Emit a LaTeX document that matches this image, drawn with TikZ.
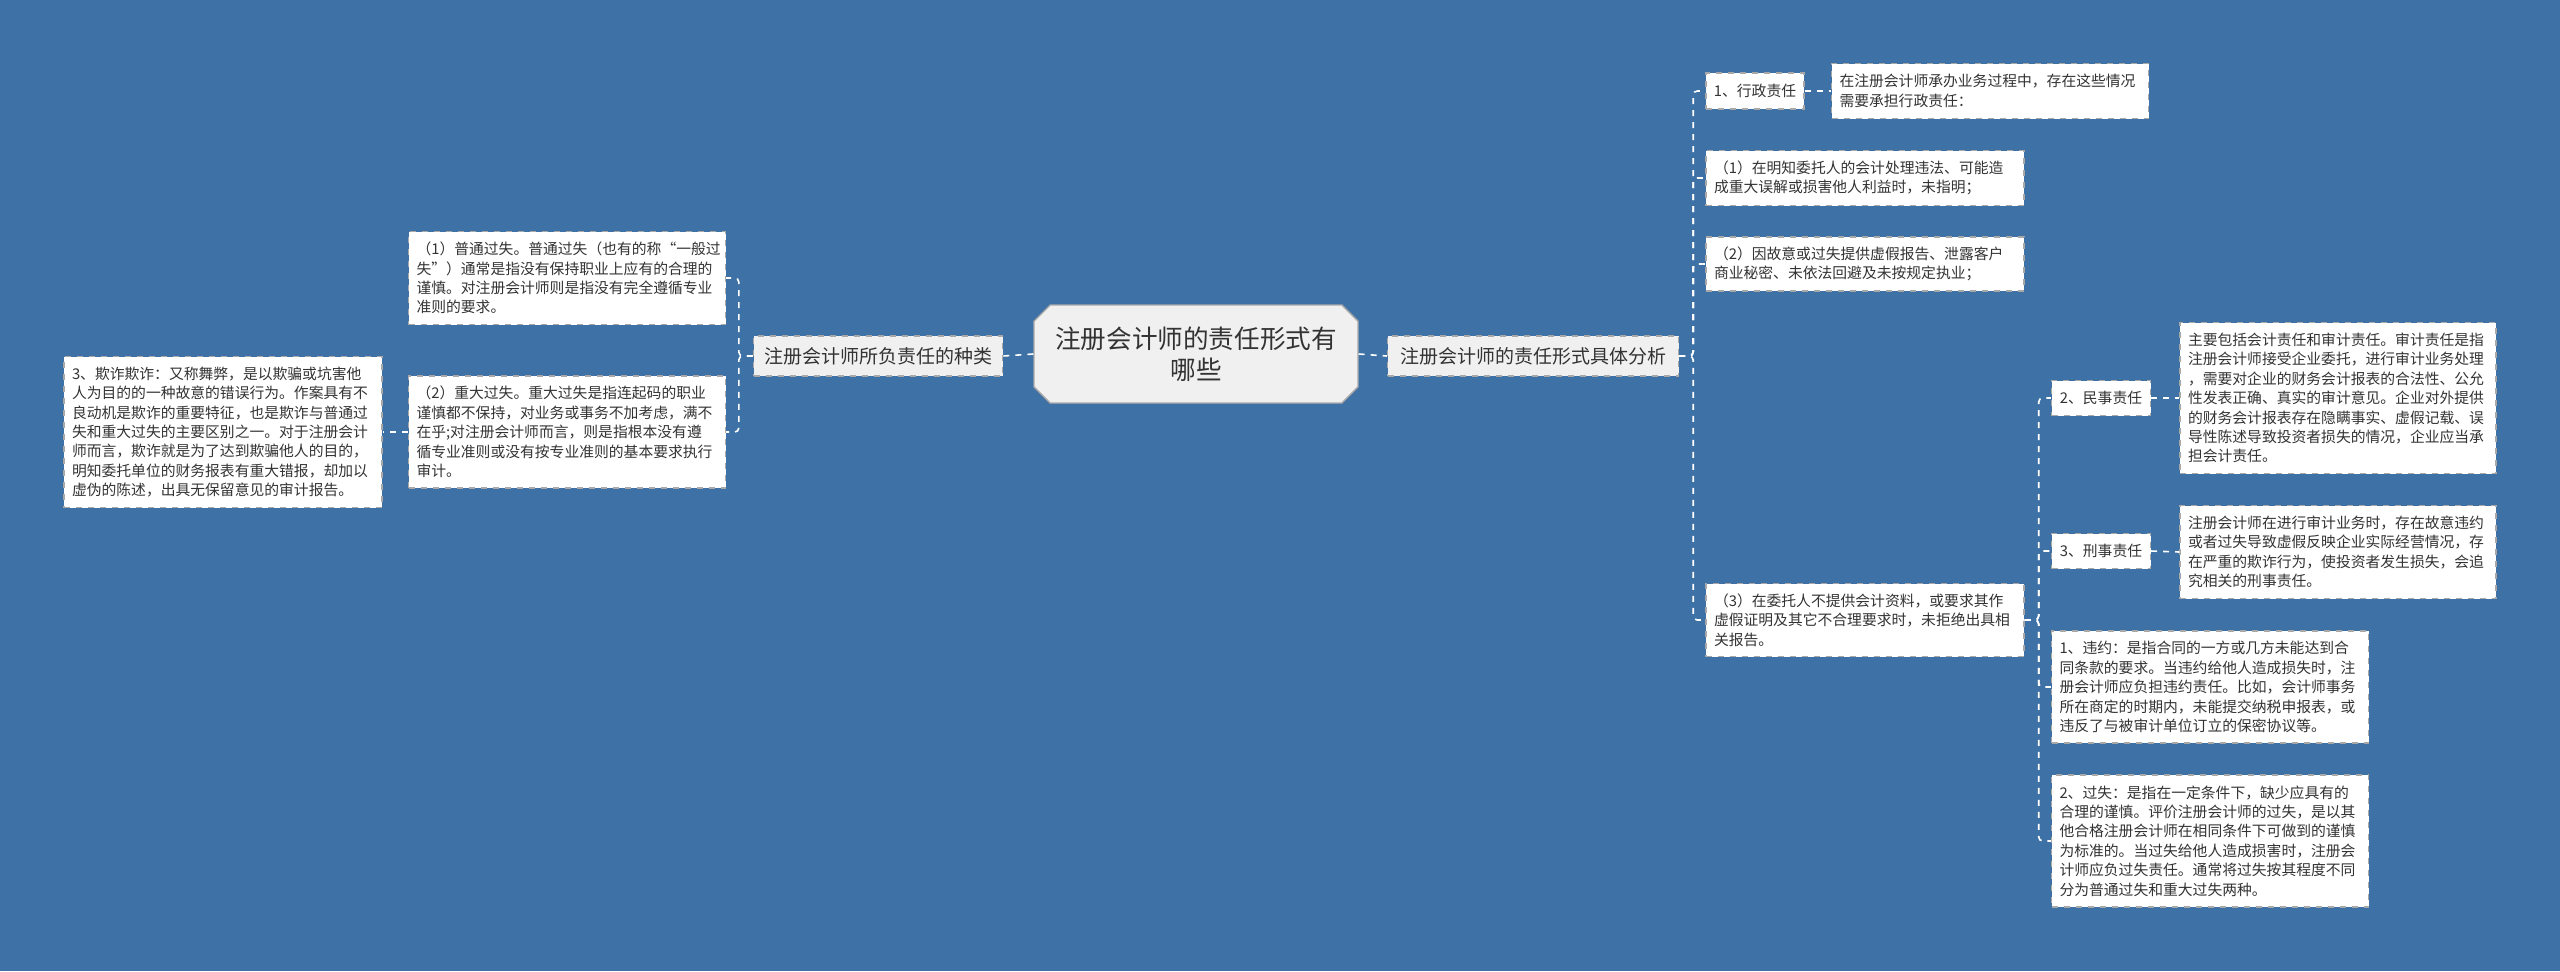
\documentclass[tikz,border=0pt]{standalone}
\usepackage{fontspec}
\setmainfont{Noto Sans CJK SC}
\usetikzlibrary{shapes.misc}
\definecolor{bg}{HTML}{3E72A6}
\definecolor{txt}{HTML}{333333}
\definecolor{bd}{HTML}{A8A8A8}
\begin{document}
\begin{tikzpicture}[x=0.5pt,y=-0.5pt,
  box/.style={draw=bd,dashed,line width=0.7pt,fill=white,text=txt,font=\fontsize{7.4}{9.7}\selectfont,align=left,inner xsep=4pt,inner ysep=2pt},
  lvl/.style={draw=bd,dashed,line width=0.7pt,fill=black!6,text=txt,font=\fontsize{9.5}{12}\selectfont,align=center,inner sep=2pt},
  lbl/.style={box,align=center,inner xsep=2pt},
  con/.style={draw=white,dashed,line width=0.8pt,rounded corners=2pt}]
\fill[bg] (0,0) rectangle (2560,971);
\node[draw=bd,line width=0.7pt,fill=black!6,text=txt,chamfered rectangle,chamfered rectangle xsep=4.5pt,chamfered rectangle corners={north west,south west,north east,south east},font=\fontsize{12.8}{15.5}\selectfont,align=center,minimum width=162pt,minimum height=49pt,inner sep=0pt] (c) at (1196,354) {注册会计师的责任形式有\\哪些};
\node[lvl,minimum width=124.5pt,minimum height=20pt] (zl) at (878,356) {注册会计师所负责任的种类};
\node[lvl,minimum width=145.5pt,minimum height=20pt] (zr) at (1533,356) {注册会计师的责任形式具体分析};
\node[box,minimum width=158.5pt,minimum height=46.5pt,text width=150.5pt] (L1) at (567,278) {（1）普通过失。普通过失（也有的称“一般过\\失”）通常是指没有保持职业上应有的合理的\\谨慎。对注册会计师则是指没有完全遵循专业\\准则的要求。};
\node[box,minimum width=158.5pt,minimum height=56pt,text width=150.5pt] (L2) at (567,432) {（2）重大过失。重大过失是指连起码的职业\\谨慎都不保持，对业务或事务不加考虑，满不\\在乎;对注册会计师而言，则是指根本没有遵\\循专业准则或没有按专业准则的基本要求执行\\审计。};
\node[box,minimum width=159pt,minimum height=75.5pt,text width=151pt] (L3) at (223,432) {3、欺诈欺诈：又称舞弊，是以欺骗或坑害他\\人为目的的一种故意的错误行为。作案具有不\\良动机是欺诈的重要特征，也是欺诈与普通过\\失和重大过失的主要区别之一。对于注册会计\\师而言，欺诈就是为了达到欺骗他人的目的，\\明知委托单位的财务报表有重大错报，却加以\\虚伪的陈述，出具无保留意见的审计报告。};
\node[lbl,minimum width=49pt,minimum height=18pt] (R1) at (1755,91) {1、行政责任};
\node[box,minimum width=158.5pt,minimum height=27.5pt,text width=150.5pt] (R1c) at (1990,91) {在注册会计师承办业务过程中，存在这些情况\\需要承担行政责任：};
\node[box,minimum width=159pt,minimum height=27.5pt,text width=151pt] (Ra) at (1865,178) {（1）在明知委托人的会计处理违法、可能造\\成重大误解或损害他人利益时，未指明；};
\node[box,minimum width=159pt,minimum height=27pt,text width=151pt] (Rb) at (1865,264) {（2）因故意或过失提供虚假报告、泄露客户\\商业秘密、未依法回避及未按规定执业；};
\node[box,minimum width=159pt,minimum height=36.5pt,text width=151pt] (Rc) at (1865,620) {（3）在委托人不提供会计资料，或要求其作\\虚假证明及其它不合理要求时，未拒绝出具相\\关报告。};
\node[lbl,minimum width=49.5pt,minimum height=17.5pt] (M) at (2101,398) {2、民事责任};
\node[box,minimum width=158pt,minimum height=75.5pt,text width=150pt] (Mc) at (2338,398) {主要包括会计责任和审计责任。审计责任是指\\注册会计师接受企业委托，进行审计业务处理\\，需要对企业的财务会计报表的合法性、公允\\性发表正确、真实的审计意见。企业对外提供\\的财务会计报表存在隐瞒事实、虚假记载、误\\导性陈述导致投资者损失的情况，企业应当承\\担会计责任。};
\node[lbl,minimum width=49.5pt,minimum height=17.5pt] (X) at (2101,551) {3、刑事责任};
\node[box,minimum width=158pt,minimum height=46.5pt,text width=150pt] (Xc) at (2338,552) {注册会计师在进行审计业务时，存在故意违约\\或者过失导致虚假反映企业实际经营情况，存\\在严重的欺诈行为，使投资者发生损失，会追\\究相关的刑事责任。};
\node[box,minimum width=158.5pt,minimum height=56pt,text width=150.5pt] (W) at (2210,687) {1、违约：是指合同的一方或几方未能达到合\\同条款的要求。当违约给他人造成损失时，注\\册会计师应负担违约责任。比如，会计师事务\\所在商定的时期内，未能提交纳税申报表，或\\违反了与被审计单位订立的保密协议等。};
\node[box,minimum width=158.5pt,minimum height=66pt,text width=150.5pt] (G) at (2210,841) {2、过失：是指在一定条件下，缺少应具有的\\合理的谨慎。评价注册会计师的过失，是以其\\他合格注册会计师在相同条件下可做到的谨慎\\为标准的。当过失给他人造成损害时，注册会\\计师应负过失责任。通常将过失按其程度不同\\分为普通过失和重大过失两种。};
% connectors
\draw[con] (c.west) -- (zl.east);
\draw[con] (c.east) -- (zr.west);
\foreach \t in {L1,L2} \draw[con] (zl.west) -- ++(-14,0) |- (\t.east);
\draw[con] (L2.west) -- (L3.east);
\foreach \t in {R1,Ra,Rb,Rc} \draw[con] (zr.east) -- ++(14,0) |- (\t.west);
\draw[con] (R1.east) -- (R1c.west);
\foreach \t in {M,X,W,G} \draw[con] (Rc.east) -- ++(14,0) |- (\t.west);
\draw[con] (M.east) -- (Mc.west);
\draw[con] (X.east) -- (Xc.west);
\end{tikzpicture}
\end{document}
